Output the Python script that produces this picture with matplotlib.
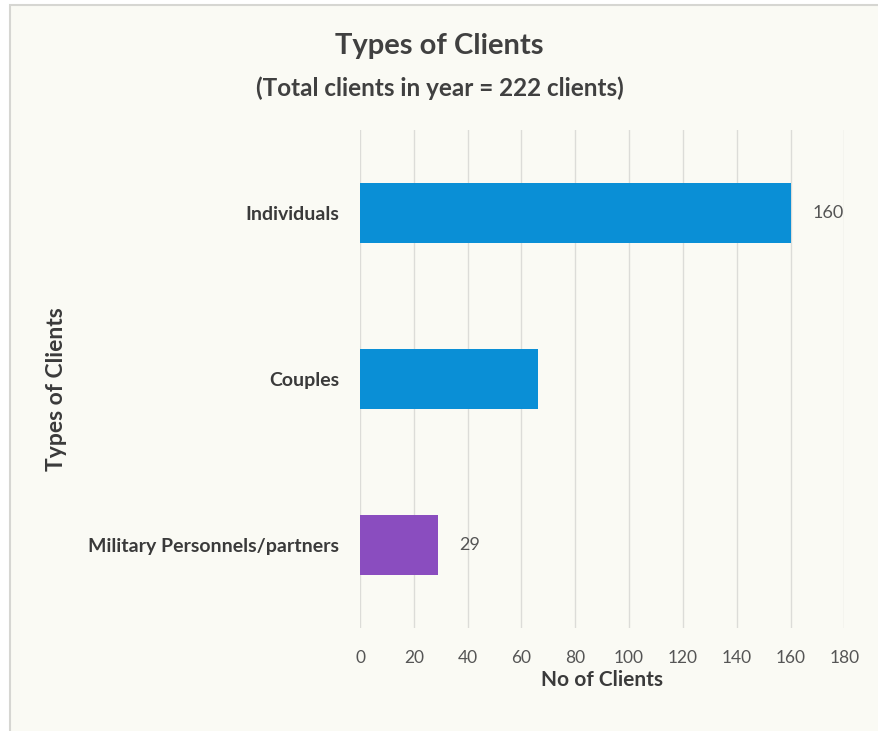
import matplotlib
matplotlib.use("Agg")
import matplotlib.pyplot as plt
from matplotlib.patches import Rectangle

categories = ["Individuals", "Couples", "Military Personnels/partners"]
clients = [160, 66, 29]
labels = ["160", "", "29"]
colors = ["#0a8fd6", "#0a8fd6", "#8a4dbf"]
x_ticks = [0, 20, 40, 60, 80, 100, 120, 140, 160, 180]

plt.rcParams['font.family'] = ['Lato', 'DejaVu Sans']

bg = "#fafaf4"
fig = plt.figure(figsize=(8.79, 7.31), dpi=100)
fig.patch.set_facecolor("white")
frame = Rectangle((0.011, -0.05), 1.2, 0.043 + 1.0, transform=fig.transFigure,
                  facecolor=bg, edgecolor="#d6d6d2", linewidth=1.5, zorder=-10)
fig.add_artist(frame)

ax = fig.add_axes([0.4096, 0.141, 0.551, 0.681])
ax.patch.set_alpha(0)

ypos = list(range(len(categories)))
ax.barh(ypos, clients, height=0.36, color=colors, zorder=3)
for y, v, t in zip(ypos, clients, labels):
    if t:
        ax.text(v + 8, y, t, va="center", ha="left", fontsize=13, color="#555555")

ax.set_ylim(2.5, -0.5)
ax.set_xlim(0, 180)
ax.set_xticks(x_ticks)
ax.set_xticklabels([str(t) for t in x_ticks], fontsize=12.5, color="#555555")
ax.set_yticks(ypos)
ax.set_yticklabels(categories, fontsize=14, fontweight="bold", color="#3a3a3a")
ax.tick_params(axis="y", length=0, pad=15)
ax.tick_params(axis="x", length=0, pad=16)
ax.grid(axis="x", color="#dcdcd8", linewidth=1.0, zorder=0)
for s in ax.spines.values():
    s.set_visible(False)

ax.set_xlabel("No of Clients", fontsize=15, fontweight="bold", color="#3a3a3a", labelpad=3)
fig.text(0.064, 0.468, "Types of Clients", rotation=90, ha="center", va="center",
         fontsize=16.5, fontweight="bold", color="#3a3a3a")

fig.text(0.5, 0.937, "Types of Clients", ha="center", va="center",
         fontsize=21, fontweight="bold", color="#404040")
fig.text(0.5, 0.880, "(Total clients in year = 222 clients)", ha="center", va="center",
         fontsize=17.5, fontweight="bold", color="#404040")

fig.savefig("out.png", dpi=100, facecolor=fig.get_facecolor())
